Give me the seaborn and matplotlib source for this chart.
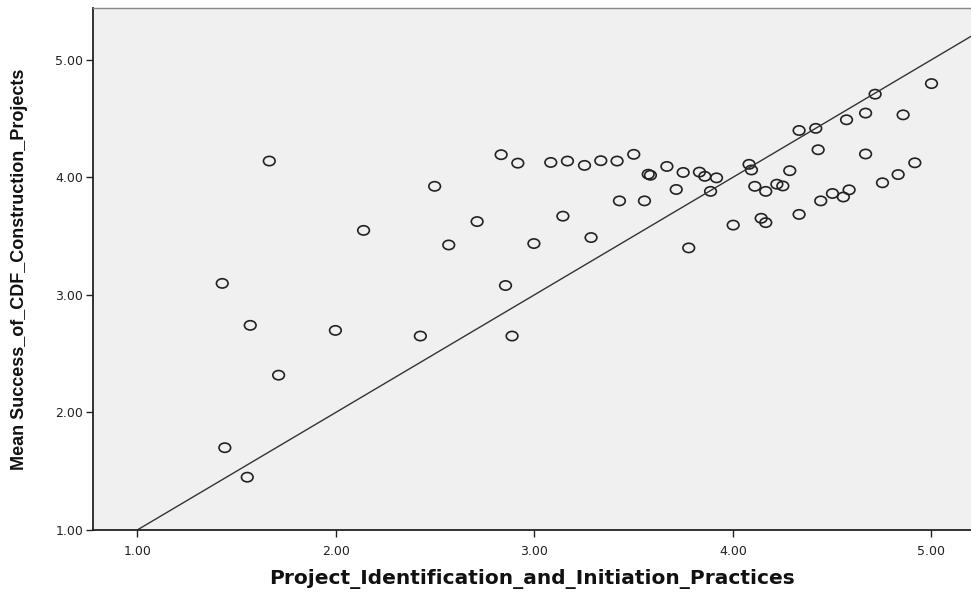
import numpy as np
import pandas as pd
import matplotlib
matplotlib.use("Agg")
import matplotlib.pyplot as plt
import seaborn as sns
from matplotlib.path import Path
from matplotlib.transforms import Affine2D

# Data
practices = [1.664, 1.427, 1.568, 1.711, 1.440, 1.553, 1.997, 2.139, 2.425, 2.497,
             2.568, 2.711, 2.832, 2.916, 2.854, 2.887, 2.997, 3.082, 3.166, 3.143,
             3.252, 3.285, 3.334, 3.416, 3.428, 3.500, 3.554, 3.573, 3.584, 3.667,
             3.714, 3.749, 3.777, 3.831, 3.858, 3.917, 3.887, 4.001, 4.081, 4.093,
             4.110, 4.165, 4.142, 4.165, 4.221, 4.251, 4.286, 4.333, 4.333, 4.417,
             4.429, 4.442, 4.501, 4.556, 4.572, 4.585, 4.668, 4.668, 4.716, 4.753,
             4.832, 4.857, 4.916, 5.000]
success = [4.138, 3.097, 2.740, 2.316, 1.699, 1.448, 2.697, 3.548, 2.649, 3.923,
           3.424, 3.623, 4.192, 4.120, 3.079, 2.649, 3.436, 4.126, 4.138, 3.669,
           4.101, 3.487, 4.141, 4.138, 3.799, 4.195, 3.799, 4.026, 4.017, 4.092,
           3.896, 4.041, 3.399, 4.044, 4.008, 3.995, 3.880, 3.593, 4.110, 4.062,
           3.923, 3.880, 3.651, 3.614, 3.941, 3.926, 4.056, 4.398, 3.684, 4.416,
           4.234, 3.799, 3.862, 3.832, 4.489, 3.893, 4.546, 4.198, 4.707, 3.953,
           4.023, 4.531, 4.123, 4.797]
tick_values = [1.0, 2.0, 3.0, 4.0, 5.0]
tick_labels = ["1.00", "2.00", "3.00", "4.00", "5.00"]
x_label = "Project_Identification_and_Initiation_Practices"
y_label = "Mean Success_of_CDF_Construction_Projects"

df = pd.DataFrame({"x": practices, "y": success})

sns.set_theme(style="white")
plt.rcParams["font.family"] = ["Liberation Sans", "DejaVu Sans"]

fig = plt.figure(figsize=(9.71, 5.94), dpi=100)
ax = fig.add_axes([0.0958, 0.108, 0.9042, 0.8785])
ax.set_facecolor("#f0f0f0")

# slightly wide ellipse marker, like the stretched SPSS circles
circ = Path.unit_circle()
ell = Path(Affine2D().scale(1.0, 0.8).transform(circ.vertices), circ.codes)

sns.scatterplot(data=df, x="x", y="y", ax=ax, marker=ell, s=70,
                facecolors="none", edgecolor="#222222", linewidth=1.2)
ax.axline((1, 1), slope=1, color="#333333", linewidth=1.0, zorder=1)

ax.set_xlim(0.776, 5.199)
ax.set_ylim(1.0, 5.44)
ax.set_xticks(tick_values)
ax.set_xticklabels(tick_labels)
ax.set_yticks(tick_values)
ax.set_yticklabels(tick_labels)
ax.tick_params(axis="both", which="major", direction="out", length=5, width=1,
               color="#222222", labelsize=9.5, labelcolor="#222222", pad=3)
for lab in ax.get_xticklabels() + ax.get_yticklabels():
    lab.set_family(["DejaVu Sans"])
    lab.set_fontsize(9)
ax.tick_params(axis="x", bottom=True, pad=6)
ax.tick_params(axis="y", left=True, pad=2)

for side in ["left", "bottom"]:
    ax.spines[side].set_color("#222222")
    ax.spines[side].set_linewidth(1.3)
ax.spines["top"].set_color("#888888")
ax.spines["top"].set_linewidth(1.0)
ax.spines["right"].set_visible(False)

ax.set_xlabel(x_label, fontsize=14.5, fontweight="bold", labelpad=8, color="#111111",
              family=["DejaVu Sans"])
ax.set_ylabel(y_label, fontsize=13, fontweight="bold", labelpad=20, color="#111111")

fig.savefig("out.png", dpi=100)
